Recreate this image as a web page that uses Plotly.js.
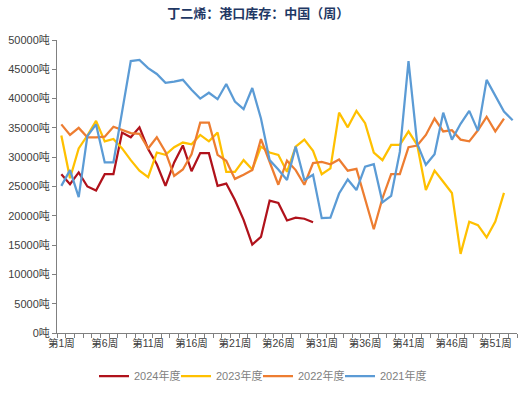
<!DOCTYPE html>
<html>
<head>
<meta charset="utf-8">
<script src="https://cdn.plot.ly/plotly-3.0.1.min.js"></script>
<style>html,body{margin:0;padding:0;background:#fff;}#chart{width:528px;height:393px;}</style>
</head>
<body>
<div id="chart"></div>
<script>
const weeks = Array.from({length: 53}, (_, i) => '第' + (i + 1) + '周');
const weekLabels = weeks.map((w, i) => (i % 5 === 0 ? w : ''));

const series2024 = [27100, 25400, 27400, 25000, 24300, 27100, 27100, 34200, 33400, 35100,
  31400, 28800, 25100, 29100, 32000, 27600, 30700, 30700, 25100, 25500,
  22700, 19300, 15100, 16400, 22600, 22200, 19200, 19700, 19500, 18900];

const series2023 = [33700, 26400, 31500, 33700, 36200, 32700, 33100, 31500, 29500, 27700,
  26600, 30800, 30400, 31700, 32500, 32200, 33800, 32700, 34200, 27500,
  27500, 29500, 27900, 31800, 30800, 30400, 27500, 31800, 33000, 31100,
  27100, 28100, 37600, 35100, 37900, 35800, 30800, 29500, 32100, 32100,
  34400, 32100, 24400, 27700, 25800, 23900, 13500, 19000, 18400, 16300,
  19000, 23900];

const series2022 = [35600, 33800, 35000, 33400, 33400, 33500, 35200, 34700, 34100, 34000,
  31500, 33400, 30900, 26800, 27900, 30500, 35900, 35900, 30400, 29400,
  26300, 27000, 27800, 33100, 29200, 25300, 29400, 27800, 25300, 29000,
  29200, 28800, 29600, 27700, 28000, 22800, 17700, 23000, 27100, 27100,
  31700, 32000, 33800, 36600, 34400, 34600, 33000, 32700, 34600, 36900,
  34400, 36600];

const series2021 = [25100, 27800, 23200, 33600, 35600, 29100, 29100, 37500, 46400, 46600,
  45200, 44200, 42700, 42900, 43200, 41500, 40000, 41000, 39900, 42500,
  39500, 38200, 41800, 36600, 29500, 27900, 26100, 31800, 26100, 27000,
  19600, 19700, 23800, 26200, 24400, 28400, 28800, 22300, 23400, 30900,
  46400, 32300, 28700, 30500, 37600, 33000, 35700, 37900, 34500, 43200,
  40600, 37800, 36300];

const seriesNames = ['2024年度', '2023年度', '2022年度', '2021年度'];
const seriesColors = ['#B0121B', '#FFC000', '#ED7D31', '#5B9BD5'];
const seriesData = [series2024, series2023, series2022, series2021];
const legendIds = ['legend', 'legend2', 'legend3', 'legend4'];
const legendLeft = [94, 176, 258, 340];

const traces = seriesData.map((vals, k) => ({
  type: 'scatter',
  mode: 'lines',
  name: seriesNames[k],
  legend: legendIds[k],
  x: weeks.slice(0, vals.length),
  y: vals,
  line: {color: seriesColors[k], width: 2.25},
  hoverinfo: 'skip'
}));

const axisGray = '#808080';
const tickFont = {family: 'Liberation Sans, Noto Sans CJK SC, sans-serif', size: 11, color: '#404040'};
const legendFont = {family: 'Liberation Sans, Noto Sans CJK SC, sans-serif', size: 11, color: '#7F7F7F'};

const layout = {
  width: 528,
  height: 393,
  margin: {l: 57, r: 11, t: 40, b: 60, pad: 0},
  paper_bgcolor: '#ffffff',
  plot_bgcolor: '#ffffff',
  showlegend: true,
  title: {
    text: '丁二烯：港口库存：中国（周）',
    font: {family: 'Noto Sans CJK SC, sans-serif', size: 13, color: '#1F3864', weight: 'bold'},
    xref: 'container', x: 0.489, xanchor: 'center',
    yref: 'container', y: 0.967, yanchor: 'middle'
  },
  xaxis: {
    type: 'category',
    categoryorder: 'array',
    categoryarray: weeks,
    range: [-0.5, 52.5],
    tickmode: 'array',
    tickvals: weeks,
    ticktext: weekLabels,
    tickson: 'boundaries',
    ticks: 'outside',
    ticklen: 4,
    tickcolor: axisGray,
    showline: true,
    linecolor: axisGray,
    linewidth: 1,
    showgrid: false,
    zeroline: false,
    tickangle: 0,
    tickfont: {family: 'Liberation Sans, Noto Sans CJK SC, sans-serif', size: 10.5, color: '#404040'},
    fixedrange: true
  },
  yaxis: {
    range: [0, 50000],
    tickmode: 'linear',
    tick0: 0,
    dtick: 5000,
    tickformat: 'd',
    ticksuffix: '吨',
    ticks: 'outside',
    ticklen: 4,
    tickcolor: axisGray,
    showline: true,
    linecolor: axisGray,
    linewidth: 1,
    showgrid: false,
    zeroline: false,
    tickfont: tickFont,
    fixedrange: true
  }
};

legendIds.forEach((id, k) => {
  layout[id] = {
    orientation: 'h',
    xref: 'container', x: legendLeft[k] / 528, xanchor: 'left',
    yref: 'container', y: 0.043, yanchor: 'middle',
    font: legendFont,
    itemwidth: 30,
    bgcolor: 'rgba(0,0,0,0)'
  };
});

Plotly.newPlot('chart', traces, layout, {staticPlot: true, displayModeBar: false});
</script>
</body>
</html>
